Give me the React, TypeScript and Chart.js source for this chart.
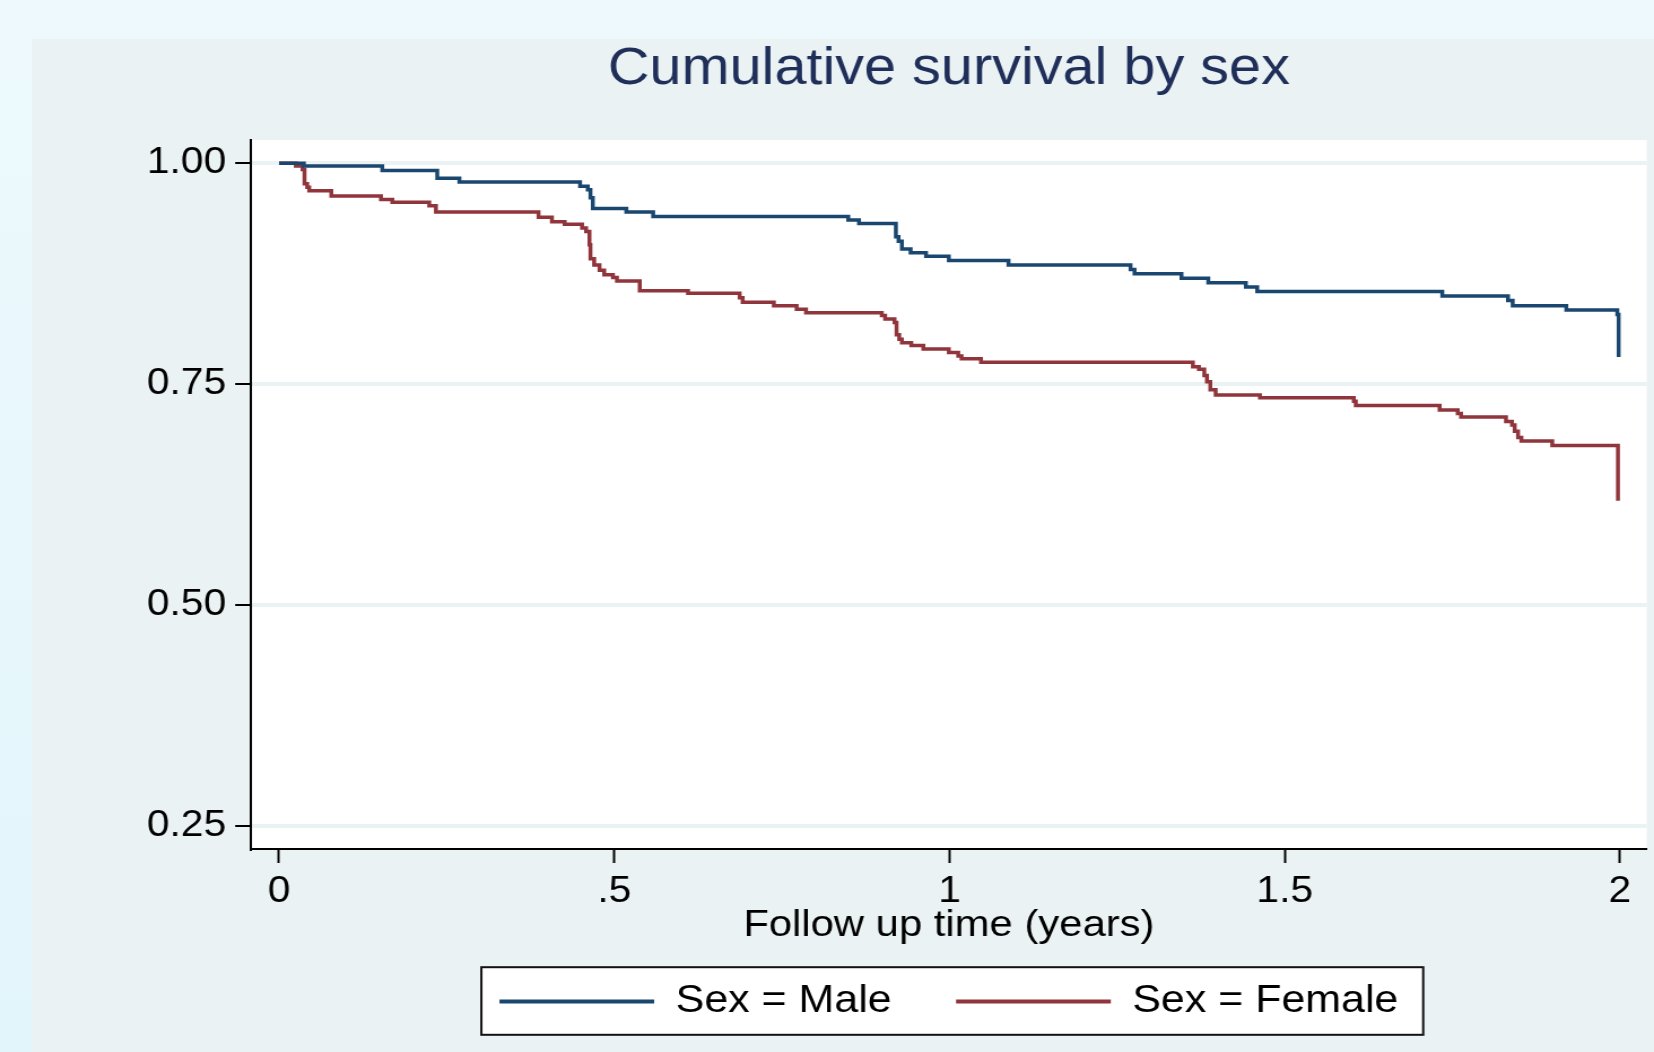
import { useEffect, useRef } from 'react';
import { Chart, registerables } from 'chart.js';

Chart.register(...registerables);

// ---- data ----
const maleTime = [0, 0.037, 0.154, 0.236, 0.269, 0.449, 0.4605, 0.4645, 0.468, 0.518, 0.558, 0.849, 0.865, 0.92, 0.924, 0.929, 0.942, 0.965, 0.999, 1.088, 1.27, 1.276, 1.346, 1.386, 1.442, 1.459, 1.735, 1.833, 1.84, 1.92, 1.996, 1.998];
const maleSurv = [1.0, 0.997, 0.992, 0.983, 0.979, 0.974, 0.97, 0.961, 0.949, 0.945, 0.94, 0.936, 0.932, 0.917, 0.912, 0.903, 0.899, 0.895, 0.89, 0.885, 0.88, 0.875, 0.87, 0.865, 0.86, 0.855, 0.85, 0.845, 0.839, 0.834, 0.829, 0.781];

const femaleTime = [0, 0.025, 0.035, 0.038, 0.042, 0.045, 0.078, 0.152, 0.169, 0.224, 0.234, 0.387, 0.407, 0.426, 0.452, 0.458, 0.463, 0.4645, 0.47, 0.478, 0.485, 0.498, 0.504, 0.538, 0.61, 0.687, 0.6915, 0.738, 0.772, 0.786, 0.899, 0.904, 0.918, 0.921, 0.925, 0.929, 0.943, 0.961, 0.999, 1.013, 1.018, 1.047, 1.363, 1.372, 1.38, 1.384, 1.389, 1.397, 1.463, 1.603, 1.606, 1.731, 1.758, 1.763, 1.83, 1.839, 1.843, 1.848, 1.853, 1.899, 1.997];
const femaleSurv = [1.0, 0.997, 0.993, 0.977, 0.973, 0.969, 0.963, 0.959, 0.956, 0.952, 0.945, 0.939, 0.934, 0.931, 0.927, 0.923, 0.908, 0.892, 0.885, 0.879, 0.874, 0.871, 0.867, 0.856, 0.853, 0.848, 0.843, 0.839, 0.835, 0.831, 0.828, 0.824, 0.82, 0.806, 0.801, 0.797, 0.794, 0.79, 0.786, 0.782, 0.779, 0.775, 0.77, 0.767, 0.76, 0.753, 0.744, 0.738, 0.735, 0.731, 0.726, 0.721, 0.717, 0.713, 0.708, 0.704, 0.697, 0.69, 0.686, 0.681, 0.6185];

const seriesLabels = ['Sex = Male', 'Sex = Female'];
const xTickValues = [0, 0.5, 1, 1.5, 2];
const xTickLabels = ['0', '.5', '1', '1.5', '2'];
const yTickValues = [0.25, 0.5, 0.75, 1.0];
const yTickLabels = ['0.25', '0.50', '0.75', '1.00'];
const titleText = 'Cumulative survival by sex';
const xTitleText = 'Follow up time (years)';

// ---- layout constants ----
const PAGE_W = 1654;
const PAGE_H = 1052;
const CW = 1464; // internal canvas width (displayed stretched horizontally)
const SX = PAGE_W / CW;
const FONT = "'Liberation Sans', Arial, Helvetica, sans-serif";
const NAVY = '#1a476f';
const MAROON = '#90353b';

const bgPlugin = {
  id: 'statabg',
  beforeDraw(chart: any) {
    const { ctx, chartArea } = chart;
    ctx.save();
    ctx.fillStyle = '#ffffff';
    ctx.fillRect(chartArea.left, chartArea.top, chartArea.right - chartArea.left, chartArea.bottom - chartArea.top);
    const lg = chart.legend;
    if (lg && lg.legendHitBoxes && lg.legendHitBoxes.length >= 2) {
      const hb = lg.legendHitBoxes;
      const left = hb[0].left - 16;
      const right = hb[1].left + hb[1].width + 22;
      const cy = hb[0].top + hb[0].height / 2;
      const top = cy - 34.3;
      const bottom = cy + 33.3;
      ctx.fillStyle = '#ffffff';
      ctx.fillRect(left, top, right - left, bottom - top);
      ctx.strokeStyle = '#111111';
      ctx.lineWidth = 2;
      ctx.strokeRect(left, top, right - left, bottom - top);
    }
    ctx.restore();
  },
};

export default function App() {
  const canvasRef = useRef<HTMLCanvasElement | null>(null);

  useEffect(() => {
    document.body.style.margin = '0';
    const canvas = canvasRef.current;
    if (!canvas) return;
    const toPts = (xs: number[], ys: number[]) => xs.map((x, i) => ({ x, y: ys[i] }));
    const chart = new Chart(canvas, {
      type: 'line',
      data: {
        datasets: [
          {
            label: seriesLabels[0],
            data: toPts(maleTime, maleSurv),
            borderColor: NAVY,
            backgroundColor: NAVY,
            borderWidth: 3.5,
            pointRadius: 0,
            stepped: true,
            fill: false,
          },
          {
            label: seriesLabels[1],
            data: toPts(femaleTime, femaleSurv),
            borderColor: MAROON,
            backgroundColor: MAROON,
            borderWidth: 3.5,
            pointRadius: 0,
            stepped: true,
            fill: false,
          },
        ],
      },
      options: {
        responsive: false,
        animation: false,
        devicePixelRatio: 1,
        events: [],
        layout: { padding: { left: 0, right: 6.4, top: 0, bottom: 21.5 } },
        scales: {
          x: {
            type: 'linear',
            min: -0.0418,
            max: 2.04,
            afterBuildTicks: (scale: any) => {
              scale.ticks = xTickValues.map((v) => ({ value: v }));
            },
            afterFit: (scale: any) => {
              scale.height = 76.5;
            },
            ticks: {
              autoSkip: false,
              maxRotation: 0,
              padding: 7,
              color: '#000',
              font: { family: FONT, size: 36 },
              callback: (_v: any, i: number) => xTickLabels[i],
            },
            grid: {
              drawOnChartArea: false,
              drawTicks: true,
              tickLength: 14,
              tickColor: '#000',
              tickWidth: 2,
              color: '#000',
            },
            border: { display: true, color: '#000', width: 2 },
            title: {
              display: true,
              text: xTitleText,
              color: '#000',
              font: { family: FONT, size: 37 },
              padding: { top: 0, bottom: -22.2 },
            },
          },
          y: {
            type: 'linear',
            min: 0.2245,
            max: 1.0264,
            afterBuildTicks: (scale: any) => {
              scale.ticks = yTickValues.map((v) => ({ value: v }));
            },
            afterFit: (scale: any) => {
              scale.width = 251 / SX;
            },
            ticks: {
              autoSkip: false,
              padding: 8,
              color: '#000',
              font: { family: FONT, size: 36 },
              callback: (_v: any, i: number) => yTickLabels[i],
            },
            grid: {
              color: '#eaf2f3',
              lineWidth: 4,
              drawTicks: true,
              tickLength: 14,
              tickColor: '#000',
              tickWidth: 2,
            },
            border: { display: true, color: '#000', width: 2 },
          },
        },
        plugins: {
          title: {
            display: true,
            text: titleText,
            fullSize: false,
            color: '#1f2f5a',
            font: { family: FONT, size: 51, weight: 'normal' },
            padding: { top: 39, bottom: 39.8 },
          },
          legend: {
            display: true,
            position: 'bottom',
            fullSize: false,
            labels: {
              boxWidth: 137,
              boxHeight: 4,
              padding: 57,
              color: '#000',
              font: { family: FONT, size: 38 },
              generateLabels: (ch: any) =>
                Chart.defaults.plugins.legend.labels
                  .generateLabels(ch)
                  .map((it: any) => ({ ...it, lineWidth: 0 })),
            },
          },
          tooltip: { enabled: false },
        },
      } as any,
      plugins: [bgPlugin],
    });
    return () => chart.destroy();
  }, []);

  return (
    <div
      style={{
        position: 'relative',
        width: PAGE_W,
        height: PAGE_H,
        overflow: 'hidden',
        background: 'linear-gradient(to bottom, #edf9fd, #e2f5fb)',
      }}
    >
      <div
        style={{
          position: 'absolute',
          left: 32,
          top: 39,
          right: 0,
          bottom: 0,
          background: '#eaf2f3',
        }}
      />
      <div
        style={{
          position: 'absolute',
          left: 0,
          top: 0,
          width: CW,
          height: PAGE_H,
          transform: `scaleX(${SX})`,
          transformOrigin: '0 0',
        }}
      >
        <canvas ref={canvasRef} width={CW} height={PAGE_H} style={{ display: 'block' }} />
      </div>
    </div>
  );
}
